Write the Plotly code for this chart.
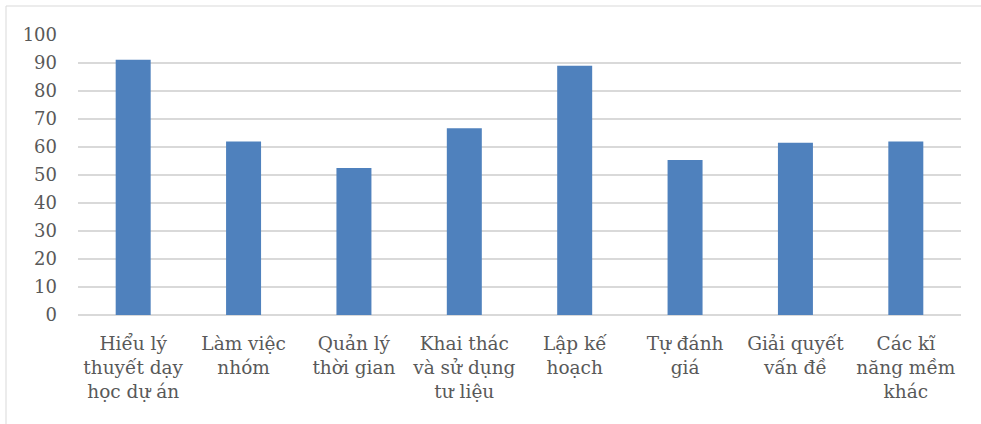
import plotly.graph_objects as go

# Skill categories and the share of respondents (%) for each
categories = [
    "Hiểu lý<br>thuyết dạy<br>học dự án",
    "Làm việc<br>nhóm",
    "Quản lý<br>thời gian",
    "Khai thác<br>và sử dụng<br>tư liệu",
    "Lập kế<br>hoạch",
    "Tự đánh<br>giá",
    "Giải quyết<br>vấn đề",
    "Các kĩ<br>năng mềm<br>khác",
]
values = [91.2, 62, 52.5, 66.7, 89, 55.4, 61.5, 62]
y_ticks = [0, 10, 20, 30, 40, 50, 60, 70, 80, 90, 100]

W, H = 981, 424
L, R, T, B = 78, 20, 35, 109

fig = go.Figure(
    go.Bar(
        x=categories,
        y=values,
        width=0.317,
        marker=dict(color="#4f81bd", line=dict(width=0)),
        hoverinfo="x+y",
    )
)

font_family = "DejaVu Serif"
label_color = "#595959"

fig.update_layout(
    width=W,
    height=H,
    margin=dict(l=L, r=R, t=T, b=B, pad=0),
    paper_bgcolor="white",
    plot_bgcolor="white",
    showlegend=False,
    font=dict(family=font_family, size=18, color=label_color),
    xaxis=dict(
        showgrid=False,
        zeroline=False,
        showline=False,
        ticks="",
        tickangle=0,
        ticklabelstandoff=15,
        tickfont=dict(family=font_family, size=18.5, color=label_color),
    ),
    yaxis=dict(
        range=[0, 100],
        tickvals=y_ticks,
        showgrid=True,
        gridcolor="#d9d9d9",
        gridwidth=1.5,
        zeroline=True,
        zerolinecolor="#d9d9d9",
        zerolinewidth=1.5,
        showline=False,
        ticks="",
        ticklabelstandoff=20,
        tickfont=dict(family=font_family, size=18, color=label_color),
    ),
)

# Light chart-area frame around the whole figure
plot_w = W - L - R
plot_h = H - T - B
fig.add_shape(
    type="rect",
    xref="paper",
    yref="paper",
    x0=(6 - L) / plot_w,
    x1=(W + 10 - L) / plot_w,
    y0=-(H + 10 - (H - B)) / plot_h,
    y1=1 + (T - 6) / plot_h,
    line=dict(color="#d9d9d9", width=1),
    fillcolor="rgba(0,0,0,0)",
    layer="below",
)

fig.write_html("out.html")
